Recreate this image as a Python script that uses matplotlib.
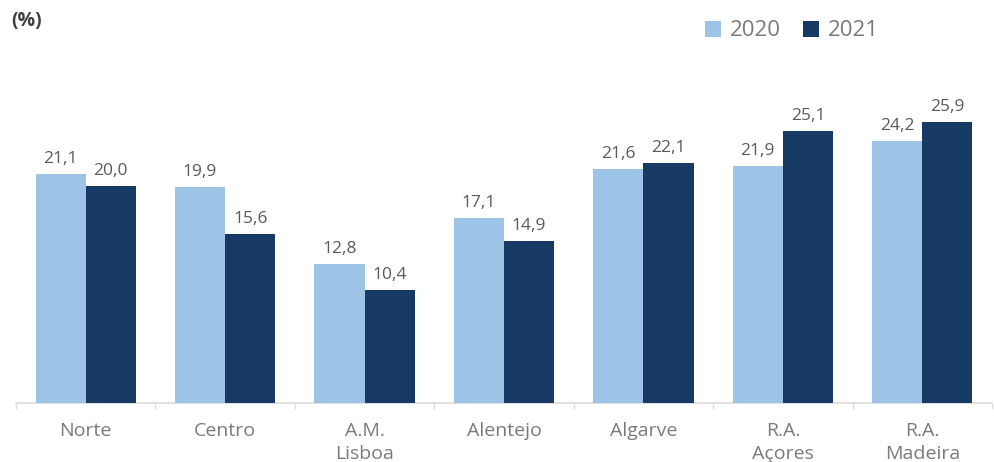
import matplotlib
import numpy as np

matplotlib.use("Agg")
import matplotlib.pyplot as plt

regions = ["Norte", "Centro", "A.M.\nLisboa", "Alentejo", "Algarve", "R.A.\nAçores", "R.A.\nMadeira"]
values_2020 = [21.1, 19.9, 12.8, 17.1, 21.6, 21.9, 24.2]
values_2021 = [20.0, 15.6, 10.4, 14.9, 22.1, 25.1, 25.9]

LIGHT = "#9dc3e6"
DARK = "#173a64"
TEXT = "#7a7a7a"
VALUE_TEXT = "#5a5a5a"

plt.rcParams["font.family"] = ["Open Sans", "DejaVu Sans"]


def fmt(v):
    return f"{v:.1f}".replace(".", ",")


def main() -> None:
    fig = plt.figure(figsize=(9.95, 4.62), dpi=100)
    ax = fig.add_axes([16 / 995, 59 / 462, 976 / 995, 347 / 462])

    x = np.arange(len(regions))
    width = 0.36

    bars_2020 = ax.bar(x - width / 2, values_2020, width=width, color=LIGHT, label="2020", zorder=3)
    bars_2021 = ax.bar(x + width / 2, values_2021, width=width, color=DARK, label="2021", zorder=3)

    for bars, vals in ((bars_2020, values_2020), (bars_2021, values_2021)):
        ax.bar_label(bars, labels=[fmt(v) for v in vals], padding=5, fontsize=12.5, color=VALUE_TEXT)

    ax.set_xlim(-0.5, len(regions) - 0.5)
    ax.set_ylim(0, 32)

    ax.set_xticks(x)
    ax.set_xticklabels(regions, fontsize=14, color=TEXT, linespacing=1.35)
    ax.tick_params(axis="x", which="major", length=0, pad=14)
    ax.set_xticks(np.arange(len(regions) + 1) - 0.5, minor=True)
    ax.tick_params(axis="x", which="minor", length=4, color="#dcdcdc", width=1)
    ax.set_yticks([])

    for side in ("top", "right", "left"):
        ax.spines[side].set_visible(False)
    ax.spines["bottom"].set_color("#dcdcdc")
    ax.spines["bottom"].set_linewidth(1.2)

    fig.text(11 / 995, 1 - 21 / 462, "(%)", fontsize=14, fontweight="bold", color="#404040", va="center")

    fig.legend(
        loc="center",
        bbox_to_anchor=(792 / 995, 1 - 31 / 462),
        ncol=2,
        frameon=False,
        fontsize=16,
        labelcolor=TEXT,
        handlelength=0.7,
        handleheight=0.7,
        handletextpad=0.4,
        columnspacing=1.0,
    )

    fig.savefig("out.png", dpi=100)
    plt.close(fig)


if __name__ == "__main__":
    main()
